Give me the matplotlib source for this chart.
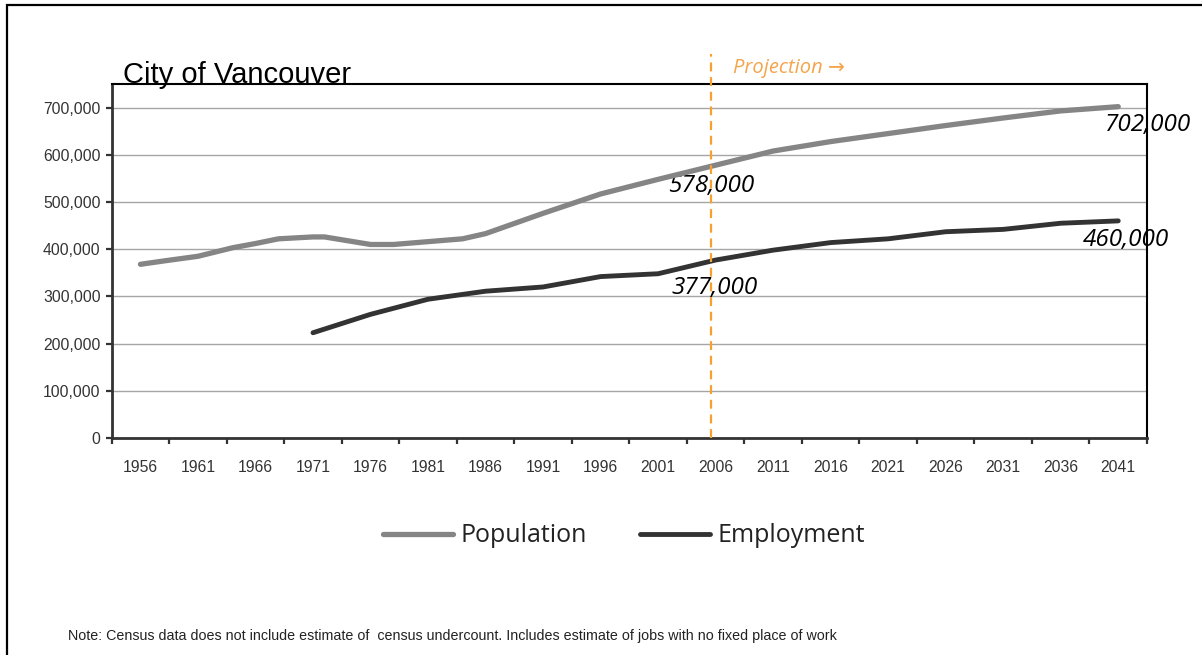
import matplotlib
matplotlib.use("Agg")
import matplotlib.pyplot as plt
import numpy as np
from matplotlib.patches import Rectangle
from matplotlib.ticker import FuncFormatter, FixedLocator
import matplotlib.transforms as mtransforms

# ---------------- data ----------------
pop_years = [1956, 1958, 1961, 1964, 1966, 1968, 1971, 1972, 1976, 1978, 1981,
             1984, 1986, 1991, 1996, 2001, 2006, 2011, 2016, 2021, 2026, 2031,
             2036, 2041]
population = [368000, 375000, 385000, 403000, 412000, 422000, 426000, 426000,
              410000, 410000, 416000, 422000, 433000, 476000, 517000, 548000,
              578000, 608000, 628000, 645000, 662000, 678000, 693000, 702000]

emp_years = [1971, 1976, 1981, 1986, 1991, 1996, 2001, 2006, 2011, 2016, 2021,
             2026, 2031, 2036, 2041]
employment = [223000, 262000, 294000, 311000, 320000, 342000, 348000, 377000,
              398000, 414000, 422000, 437000, 442000, 455000, 460000]

tick_years = list(range(1956, 2042, 5))
y_ticks = list(range(0, 700001, 100000))
projection_start = 2005.6
labelled_year = 2006

title = "City of Vancouver"
note = ("Note: Census data does not include estimate of  census undercount. "
        "Includes estimate of jobs with no fixed place of work")

# ---------------- figure ----------------
W, H = 1202, 655
fig = plt.figure(figsize=(W / 100, H / 100), dpi=100)
fig.patch.set_facecolor("white")

ax = fig.add_axes([111.7 / W, 1 - 438 / H, (1147 - 111.7) / W, (438 - 84) / H])

pop_color = "#858585"
emp_color = "#333333"
txt_gray = "#333333"

ax.plot(pop_years, population, color=pop_color, lw=3.8, solid_capstyle="round",
        solid_joinstyle="round", label="Population", zorder=3)
ax.plot(emp_years, employment, color=emp_color, lw=3.5, solid_capstyle="round",
        solid_joinstyle="round", label="Employment", zorder=3)

ax.set_xlim(tick_years[0] - 2.5, tick_years[-1] + 2.5)
ax.set_ylim(0, 750000)

# y axis
ax.yaxis.set_major_locator(FixedLocator(y_ticks))
ax.yaxis.set_major_formatter(FuncFormatter(lambda v, p: f"{int(v):,}"))
ax.grid(axis="y", color="#a6a6a6", lw=1.0, zorder=0)
ax.set_axisbelow(True)

# x axis: ticks at category boundaries, labels at category centers
bounds = [y - 2.5 for y in tick_years] + [tick_years[-1] + 2.5]
ax.xaxis.set_major_locator(FixedLocator(bounds))
ax.xaxis.set_major_formatter(FuncFormatter(lambda v, p: ""))
ax.xaxis.set_minor_locator(FixedLocator(tick_years))
ax.xaxis.set_minor_formatter(FuncFormatter(lambda v, p: f"{int(round(v))}"))

ax.tick_params(axis="x", which="major", direction="out", length=4, width=1.6,
               color=txt_gray)
ax.tick_params(axis="x", which="minor", length=0, pad=16, labelsize=11.3,
               labelcolor=txt_gray)
ax.tick_params(axis="y", which="major", direction="out", length=4, width=1.6,
               color=txt_gray, pad=4, labelsize=11.3, labelcolor=txt_gray)
for lab in ax.get_xticklabels(minor=True) + ax.get_yticklabels():
    lab.set_fontfamily("Liberation Sans")

for side in ("left", "bottom"):
    ax.spines[side].set_color(txt_gray)
    ax.spines[side].set_linewidth(2.0)
for side in ("top", "right"):
    ax.spines[side].set_color("black")
    ax.spines[side].set_linewidth(1.5)

# projection line
trans = mtransforms.blended_transform_factory(ax.transData, ax.transAxes)
ax.plot([projection_start, projection_start], [0, 1.085], transform=trans,
        color="#F7A030", lw=1.6, ls=(0, (4, 2.6)), clip_on=False, zorder=4)
ax.text(projection_start + 1.9, 1.03, "Projection \u2192", transform=trans,
        family=["Open Sans", "DejaVu Sans"], style="italic", fontsize=14.5,
        color="#F5A44A", va="baseline", ha="left")

# value labels
lab_font = dict(family=["Open Sans", "DejaVu Sans"], style="italic",
                fontsize=17.5, color="black", va="center", ha="left", zorder=2)
i_pop = pop_years.index(labelled_year)
i_emp = emp_years.index(labelled_year)
ax.annotate(f"{population[-1]:,}", (pop_years[-1], population[-1]),
            xytext=(-9.5, -13.2), textcoords="offset points", annotation_clip=False,
            **lab_font)
ax.annotate(f"{employment[-1]:,}", (emp_years[-1], employment[-1]),
            xytext=(-25.5, -14), textcoords="offset points", annotation_clip=False,
            **lab_font)
ax.annotate(f"{population[i_pop]:,}", (pop_years[i_pop], population[i_pop]),
            xytext=(-34, -15.2), textcoords="offset points", **lab_font)
ax.annotate(f"{employment[i_emp]:,}", (emp_years[i_emp], employment[i_emp]),
            xytext=(-31.5, -19.8), textcoords="offset points", **lab_font)

# title
fig.text(123 / W, 1 - 83 / H, title, family="Liberation Sans", fontsize=21,
         color="black", va="baseline", ha="left")

# legend
leg = fig.legend(loc="center", bbox_to_anchor=(624 / W, 1 - 536 / H), ncol=2,
                 frameon=False, handlelength=2.8, handletextpad=0.3,
                 columnspacing=2.1, prop={"family": "Open Sans", "size": 18})
for t in leg.get_texts():
    t.set_color("#222222")

# note
fig.text(68 / W, 1 - 636 / H, note, family=["Liberation Sans Narrow", "Liberation Sans"],
         fontsize=10.3, color="#222222", va="center", ha="left")

# outer border
fig.patches.append(Rectangle((7 / W, -0.1), 1.2, 1.1 - 5.5 / H, transform=fig.transFigure,
                             fill=False, edgecolor="black", lw=1.6, zorder=0))

fig.savefig("out.png", dpi=100)
